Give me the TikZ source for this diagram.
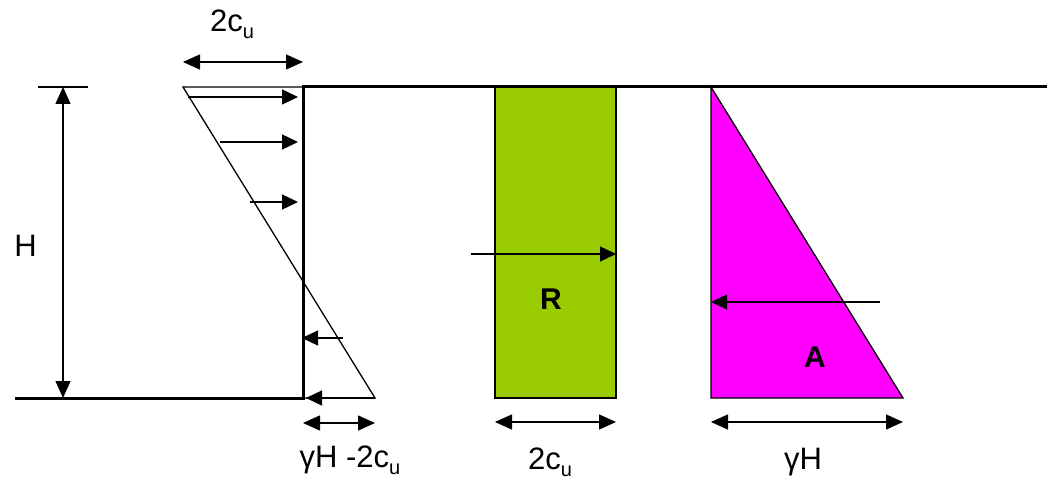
\documentclass[tikz,border=0pt]{standalone}
\usepackage{fontspec}
\setmainfont{Liberation Sans}
\usetikzlibrary{arrows.meta}
\definecolor{resgreen}{HTML}{99CC00}
\definecolor{actmagenta}{HTML}{FF00FF}
\newcommand{\cusub}{c\raisebox{-7pt}{\fontsize{20}{20}\selectfont u}}

\begin{document}
\begin{tikzpicture}[x=1pt,y=-1pt,
  thinline/.style={line width=1.3pt},
  ground/.style={line width=3pt},
  force/.style={line width=1.3pt,-{Triangle[length=16pt,width=15pt]}},
  dimline/.style={line width=1.3pt,{Triangle[length=17pt,width=15pt]}-{Triangle[length=17pt,width=15pt]}},
  lbl/.style={font=\fontsize{31}{34}\selectfont,inner sep=0pt,anchor=base},
  blbl/.style={font=\fontsize{30}{34}\selectfont\bfseries,inner sep=0pt}]
\useasboundingbox (0,0) rectangle (1057,481);

% wall and ground
\coordinate (gleft) at (15,398);
\coordinate (wbot) at (303,398);
\coordinate (wtop) at (303,87);
\coordinate (gright) at (1047,87);
\draw[ground] (gleft) -- (wbot) -- (wtop) -- (gright);

% height H
\coordinate (tickl) at (38,87);
\coordinate (tickr) at (88,87);
\coordinate (htop) at (63,87);
\coordinate (hbot) at (63,398);
\draw[thinline] (tickl) -- (tickr);
\draw[dimline] (htop) -- (hbot);
\node[lbl,anchor=center] (hlabel) at (25.5,246) {H};

% net pressure diagram
\coordinate (ttop) at (183,87);
\coordinate (tbot) at (375,398);
\draw[thinline] (wtop) -- (ttop) -- (tbot) -- (wbot);
\coordinate (p1) at (188,97);  \coordinate (q1) at (298,97);
\coordinate (p2) at (220,142); \coordinate (q2) at (298,142);
\coordinate (p3) at (250,202); \coordinate (q3) at (298,202);
\coordinate (p4) at (343,338); \coordinate (q4) at (302,338);
\coordinate (p5) at (375,398); \coordinate (q5) at (306,398);
\foreach \i in {1,...,5}
  \draw[force] (p\i) -- (q\i);

\coordinate (dta) at (183,62);
\coordinate (dtb) at (303,62);
\draw[dimline] (dta) -- (dtb);
\node[lbl] (topcu) at (232,32) {2\cusub};

\coordinate (dba) at (303,423);
\coordinate (dbb) at (375,423);
\draw[dimline] (dba) -- (dbb);
\node[lbl] (netlabel) at (350,467) {γH -2\cusub};

% resistance R
\draw[thinline,fill=resgreen] (495,87) rectangle (616,398);
\coordinate (ra) at (471,254);
\coordinate (rb) at (616,254);
\draw[force] (ra) -- (rb);
\node[blbl] (rlabel) at (551,299) {R};
\coordinate (dra) at (495,422);
\coordinate (drb) at (616,422);
\draw[dimline] (dra) -- (drb);
\node[lbl] (rcu) at (550,469) {2\cusub};

% active A
\coordinate (atop) at (711,87);
\coordinate (abot) at (711,398);
\coordinate (atoe) at (903,398);
\draw[thinline,fill=actmagenta] (atop) -- (abot) -- (atoe) -- cycle;
\coordinate (aa) at (880,302);
\coordinate (ab) at (711,302);
\draw[force] (aa) -- (ab);
\node[blbl] (alabel) at (815,357) {A};
\coordinate (daa) at (711,422);
\coordinate (dab) at (903,422);
\draw[dimline] (daa) -- (dab);
\node[lbl] (gh) at (803,469) {γH};
\end{tikzpicture}
\end{document}
